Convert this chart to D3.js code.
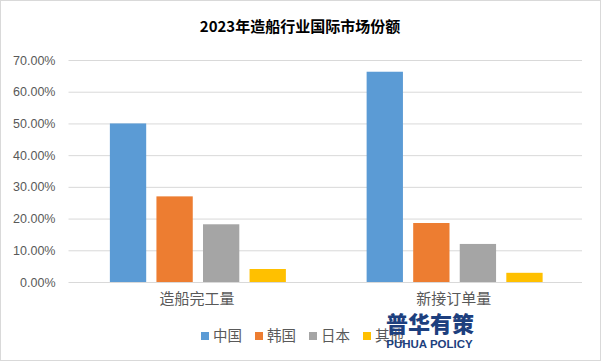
<!DOCTYPE html>
<html>
<head>
<meta charset="utf-8">
<script src="https://cdn.jsdelivr.net/npm/d3@7/dist/d3.min.js"></script>
<style>
  html, body { margin: 0; padding: 0; background: #fff; }
  svg { display: block; }
</style>
</head>
<body>
<div id="chart"></div>
<script>
const title = "2023年造船行业国际市场份额";
const categories = ["造船完工量", "新接订单量"];
const seriesNames = ["中国", "韩国", "日本", "其他"];
const chinaValues = [50.0, 66.3];
const koreaValues = [27.0, 18.6];
const japanValues = [18.2, 12.0];
const otherValues = [4.1, 2.9];
const yTickValues = [0, 10, 20, 30, 40, 50, 60, 70];
const seriesColors = ["#5b9bd5", "#ed7d31", "#a5a5a5", "#ffc000"];

const seriesValues = [chinaValues, koreaValues, japanValues, otherValues];

const W = 601, H = 361;
const svg = d3.select("#chart").append("svg").attr("width", W).attr("height", H);

svg.append("rect").attr("x", 0.5).attr("y", 0.5).attr("width", W - 1).attr("height", H - 1)
  .attr("fill", "#fff").attr("stroke", "#d9d9d9");

const plot = { left: 68.5, right: 582, top: 60, bottom: 282 };

const y = d3.scaleLinear().domain([0, 70]).range([plot.bottom, plot.top]);
const x0 = d3.scaleBand().domain(categories).range([plot.left, plot.right]).padding(0);
const groupW = 176;
const x1 = d3.scaleBand().domain(seriesNames)
  .range([(x0.bandwidth() - groupW) / 2 + 1, (x0.bandwidth() + groupW) / 2 + 1])
  .paddingInner(0.22).paddingOuter(0);

// title
svg.append("text").attr("x", 300).attr("y", 32).attr("text-anchor", "middle")
  .attr("font-family", "'Noto Sans CJK SC', sans-serif").attr("font-weight", "bold")
  .attr("font-size", 15).attr("fill", "#000").text(title);

// gridlines + y axis labels
const yAxis = d3.axisLeft(y).tickValues(yTickValues).tickSize(-(plot.right - plot.left))
  .tickPadding(13).tickFormat(d => d3.format(".2f")(d) + "%");
const gy = svg.append("g").attr("transform", `translate(${plot.left},0)`).call(yAxis);
gy.select(".domain").remove();
gy.selectAll(".tick line").attr("stroke", "#d9d9d9").attr("stroke-width", 1);
gy.selectAll(".tick text").attr("font-family", "'Liberation Sans', Arial, sans-serif")
  .attr("font-size", 12.5).attr("fill", "#595959");

// bars
const groups = svg.append("g").selectAll("g").data(categories).join("g")
  .attr("transform", d => `translate(${x0(d)},0)`);
groups.selectAll("rect")
  .data((c, ci) => seriesNames.map((s, si) => ({ s, si, v: seriesValues[si][ci] })))
  .join("rect")
  .attr("x", d => x1(d.s))
  .attr("width", x1.bandwidth())
  .attr("y", d => y(d.v))
  .attr("height", d => y(0) - y(d.v))
  .attr("fill", d => seriesColors[d.si]);

// x axis
const xAxis = d3.axisBottom(x0).tickSize(0).tickPadding(14);
const gx = svg.append("g").attr("transform", `translate(0,${plot.bottom})`).call(xAxis);
gx.select(".domain").remove();
gx.selectAll(".tick text").attr("font-family", "'Noto Sans CJK SC', sans-serif")
  .attr("font-size", 15).attr("fill", "#595959").attr("dy", "0.55em");

// legend
const legend = svg.append("g");
let lx = 0;
seriesNames.forEach((name, i) => {
  const g = legend.append("g").attr("transform", `translate(${lx},0)`);
  g.append("rect").attr("x", 0).attr("y", -4).attr("width", 8).attr("height", 8).attr("fill", seriesColors[i]);
  const t = g.append("text").attr("x", 12).attr("y", 0).attr("dy", "0.35em")
    .attr("font-family", "'Noto Sans CJK SC', sans-serif").attr("font-size", 14.5)
    .attr("fill", "#595959").text(name);
  lx += 12 + t.node().getComputedTextLength() + 13;
});
const legendW = lx - 13;
legend.attr("transform", `translate(${302.5 - legendW / 2},336)`);

// watermark
svg.append("text").attr("x", 430).attr("y", 332).attr("text-anchor", "middle")
  .attr("font-family", "'Noto Sans CJK SC', sans-serif").attr("font-weight", "900")
  .attr("font-size", 22).attr("fill", "#1d3f7e").text("普华有策");
svg.append("text").attr("x", 429.5).attr("y", 348).attr("text-anchor", "middle")
  .attr("font-family", "'Liberation Sans', Arial, sans-serif").attr("font-weight", "bold")
  .attr("font-size", 11.5).attr("fill", "#1d3f7e").text("PUHUA POLICY");
</script>
</body>
</html>
